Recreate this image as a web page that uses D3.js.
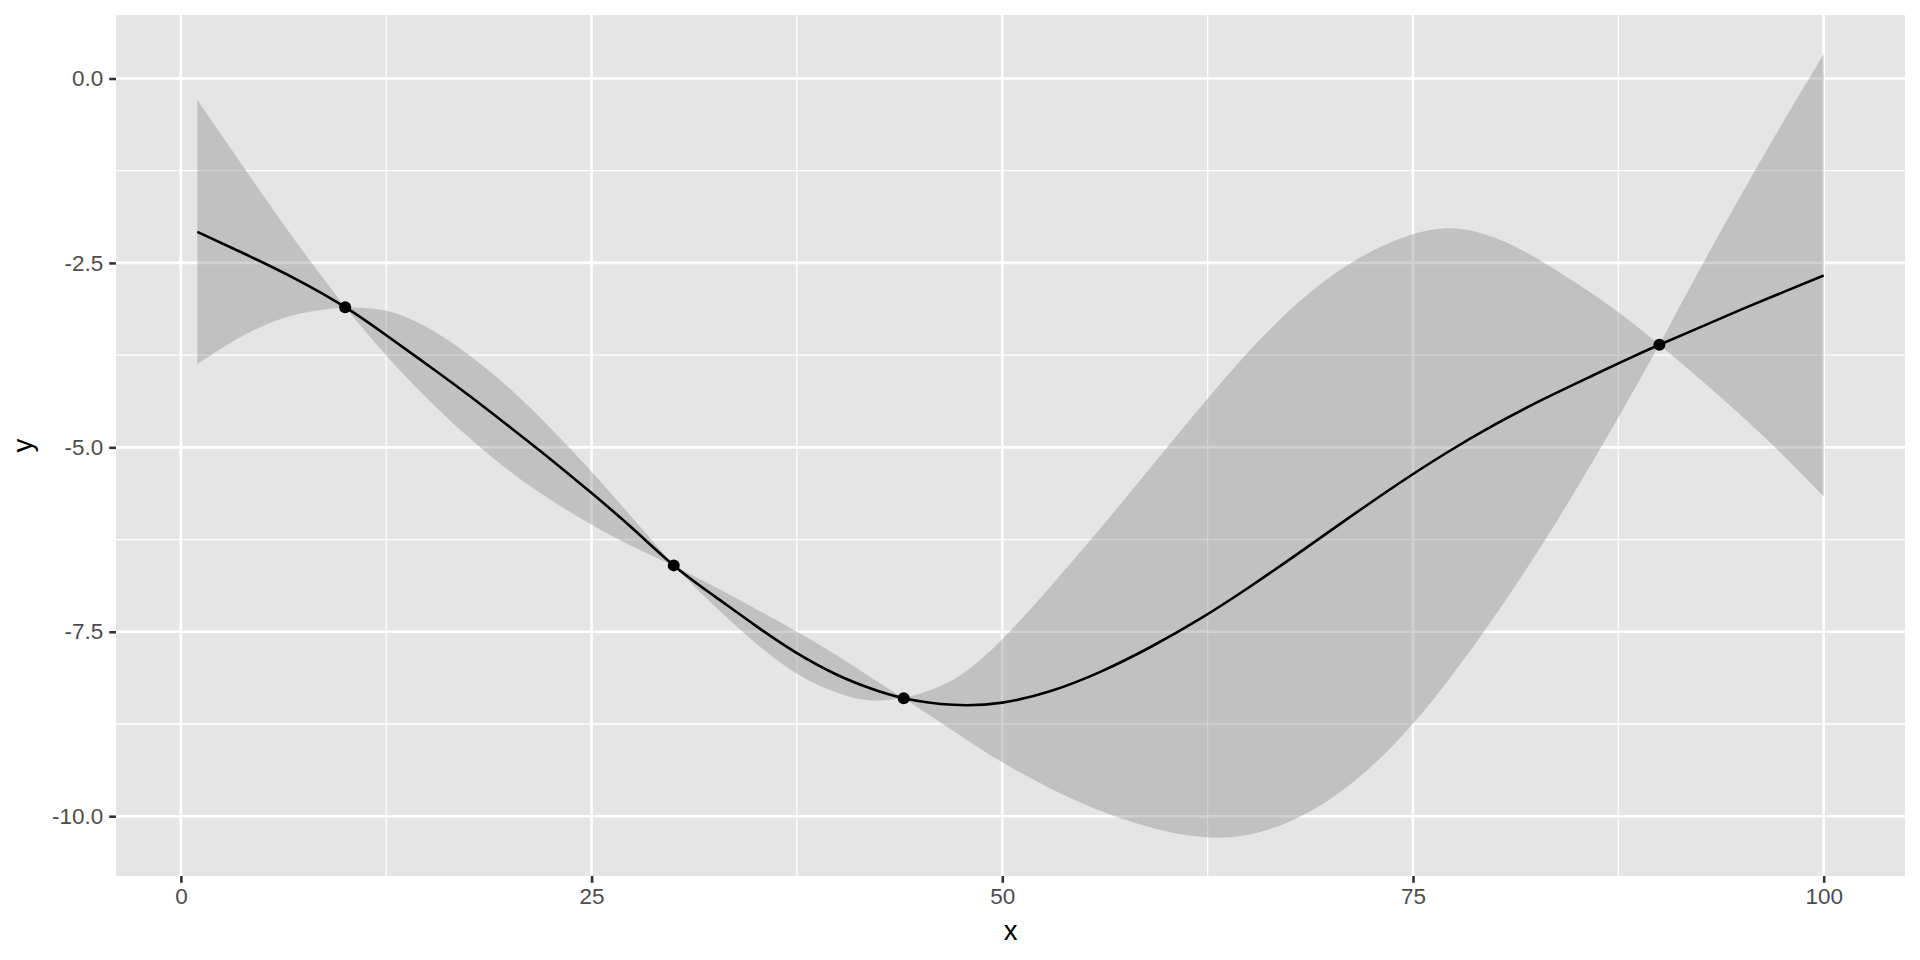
<!DOCTYPE html>
<html>
<head>
<meta charset="utf-8">
<script src="https://cdn.jsdelivr.net/npm/d3@7"></script>
<style>
  html, body { margin: 0; padding: 0; background: #ffffff; }
  svg { display: block; }
  text { font-family: "Liberation Sans", Arial, Helvetica, sans-serif; }
</style>
</head>
<body>
<svg id="chart" width="1920" height="960"></svg>
<script>
// ---- data ----
const obsX = [10, 30, 44, 90];
const obsY = [-3.10, -6.60, -8.40, -3.61];

const gridX = [1, 4, 7, 10, 12.5, 15, 17.5, 20, 22.5, 25, 27.5, 30, 32.5, 35, 37.5, 40, 42, 44,
  47, 50, 53, 56, 59, 62, 65, 68, 71, 74, 77, 80, 83, 86, 88, 90, 92.5, 95, 97.5, 100];
const meanY = [-2.08, -2.39, -2.72, -3.10, -3.48, -3.88, -4.29, -4.72, -5.16, -5.62, -6.10, -6.60,
  -7.02, -7.42, -7.79, -8.09, -8.27, -8.40, -8.49, -8.46, -8.30, -8.04, -7.71, -7.33, -6.90, -6.44,
  -5.97, -5.51, -5.08, -4.69, -4.34, -4.02, -3.81, -3.61, -3.37, -3.13, -2.90, -2.67];
const upperY = [-0.29, -1.26, -2.21, -3.10, -3.15, -3.375, -3.74, -4.20, -4.74, -5.33, -5.96, -6.60,
  -6.89, -7.19, -7.50, -7.83, -8.12, -8.40, -8.15, -7.60, -6.87, -6.09, -5.28, -4.47, -3.70, -3.04,
  -2.53, -2.19, -2.03, -2.16, -2.50, -2.93, -3.25, -3.61, -2.57, -1.57, -0.60, 0.33];
const lowerY = [-3.87, -3.46, -3.20, -3.10, -3.755, -4.34, -4.86, -5.32, -5.71, -6.05, -6.345, -6.60,
  -7.155, -7.655, -8.07, -8.33, -8.43, -8.40, -8.84, -9.27, -9.63, -9.93, -10.15, -10.28, -10.25, -10.02,
  -9.60, -8.99, -8.20, -7.28, -6.27, -5.17, -4.40, -3.61, -4.08, -4.575, -5.10, -5.67];

const xMajor = [0, 25, 50, 75, 100];
const xMinor = [12.5, 37.5, 62.5, 87.5];
const yMajor = [-10, -7.5, -5, -2.5, 0];
const yMinor = [-8.75, -6.25, -3.75, -1.25];
const yTickLabels = ["-10.0", "-7.5", "-5.0", "-2.5", "0.0"];
const xTickLabels = ["0", "25", "50", "75", "100"];

// ---- layout ----
const panel = { left: 116, right: 1905, top: 15, bottom: 876 };

const svg = d3.select("#chart");

const pts = gridX.map((x, i) => ({ x, m: meanY[i], lo: lowerY[i], hi: upperY[i] }));

function expand(ext) {
  const d = (ext[1] - ext[0]) * 0.05;
  return [ext[0] - d, ext[1] + d];
}
const xScale = d3.scaleLinear()
  .domain(expand(d3.extent(gridX)))
  .range([panel.left, panel.right]);
const yScale = d3.scaleLinear()
  .domain(expand([d3.min(lowerY), d3.max(upperY)]))
  .range([panel.bottom, panel.top]);

// panel background
svg.append("rect")
  .attr("x", panel.left).attr("y", panel.top)
  .attr("width", panel.right - panel.left)
  .attr("height", panel.bottom - panel.top)
  .attr("fill", "#E5E5E5");

const grid = svg.append("g");
grid.selectAll(".vmin").data(xMinor).enter().append("line")
  .attr("x1", d => xScale(d)).attr("x2", d => xScale(d))
  .attr("y1", panel.top).attr("y2", panel.bottom)
  .attr("stroke", "#ffffff").attr("stroke-width", 1.3);
grid.selectAll(".hmin").data(yMinor).enter().append("line")
  .attr("y1", d => yScale(d)).attr("y2", d => yScale(d))
  .attr("x1", panel.left).attr("x2", panel.right)
  .attr("stroke", "#ffffff").attr("stroke-width", 1.3);
grid.selectAll(".vmaj").data(xMajor).enter().append("line")
  .attr("x1", d => xScale(d)).attr("x2", d => xScale(d))
  .attr("y1", panel.top).attr("y2", panel.bottom)
  .attr("stroke", "#ffffff").attr("stroke-width", 2.6);
grid.selectAll(".hmaj").data(yMajor).enter().append("line")
  .attr("y1", d => yScale(d)).attr("y2", d => yScale(d))
  .attr("x1", panel.left).attr("x2", panel.right)
  .attr("stroke", "#ffffff").attr("stroke-width", 2.6);

// ribbon: one piece between each pair of pinch points (the observations)
const segments = [];
let start = 0;
for (let i = 1; i < pts.length; i++) {
  if (pts[i].hi === pts[i].lo || i === pts.length - 1) {
    segments.push(pts.slice(start, i + 1));
    start = i;
  }
}
const area = d3.area()
  .x(d => xScale(d.x))
  .y0(d => yScale(d.lo))
  .y1(d => yScale(d.hi))
  .curve(d3.curveNatural);
svg.append("g").selectAll("path").data(segments).enter().append("path")
  .attr("d", area)
  .attr("fill", "#8C8C8C")
  .attr("fill-opacity", 0.4)
  .attr("stroke", "none");

// mean line
const line = d3.line()
  .x(d => xScale(d.x))
  .y(d => yScale(d.m))
  .curve(d3.curveNatural);
svg.append("path")
  .datum(pts)
  .attr("d", line)
  .attr("fill", "none")
  .attr("stroke", "#000000")
  .attr("stroke-width", 2.6);

// observed points
svg.append("g").selectAll("circle").data(obsX).enter().append("circle")
  .attr("cx", d => xScale(d))
  .attr("cy", (d, i) => yScale(obsY[i]))
  .attr("r", 6)
  .attr("fill", "#000000");

// axes
const xAxis = d3.axisBottom(xScale)
  .tickValues(xMajor)
  .tickFormat((d, i) => xTickLabels[i])
  .tickSize(6.8).tickPadding(5);
const gx = svg.append("g").attr("transform", `translate(0,${panel.bottom})`).call(xAxis);
gx.select(".domain").remove();
gx.selectAll(".tick line").attr("stroke", "#333333").attr("stroke-width", 2.6);
gx.selectAll(".tick text").attr("fill", "#4D4D4D").attr("font-size", 22.5)
  .attr("font-family", "Liberation Sans, Arial, sans-serif").attr("dy", "0.71em");

const yAxis = d3.axisLeft(yScale)
  .tickValues(yMajor)
  .tickFormat((d, i) => yTickLabels[i])
  .tickSize(6.8).tickPadding(6);
const gy = svg.append("g").attr("transform", `translate(${panel.left},0)`).call(yAxis);
gy.select(".domain").remove();
gy.selectAll(".tick line").attr("stroke", "#333333").attr("stroke-width", 2.6);
gy.selectAll(".tick text").attr("fill", "#4D4D4D").attr("font-size", 22.5)
  .attr("font-family", "Liberation Sans, Arial, sans-serif");

// axis titles
svg.append("text")
  .attr("x", (panel.left + panel.right) / 2)
  .attr("y", 940)
  .attr("text-anchor", "middle")
  .attr("font-size", 27.5)
  .attr("fill", "#000000")
  .text("x");
svg.append("text")
  .attr("transform", `translate(32,${(panel.top + panel.bottom) / 2}) rotate(-90)`)
  .attr("text-anchor", "middle")
  .attr("font-size", 27.5)
  .attr("fill", "#000000")
  .text("y");
</script>
</body>
</html>
